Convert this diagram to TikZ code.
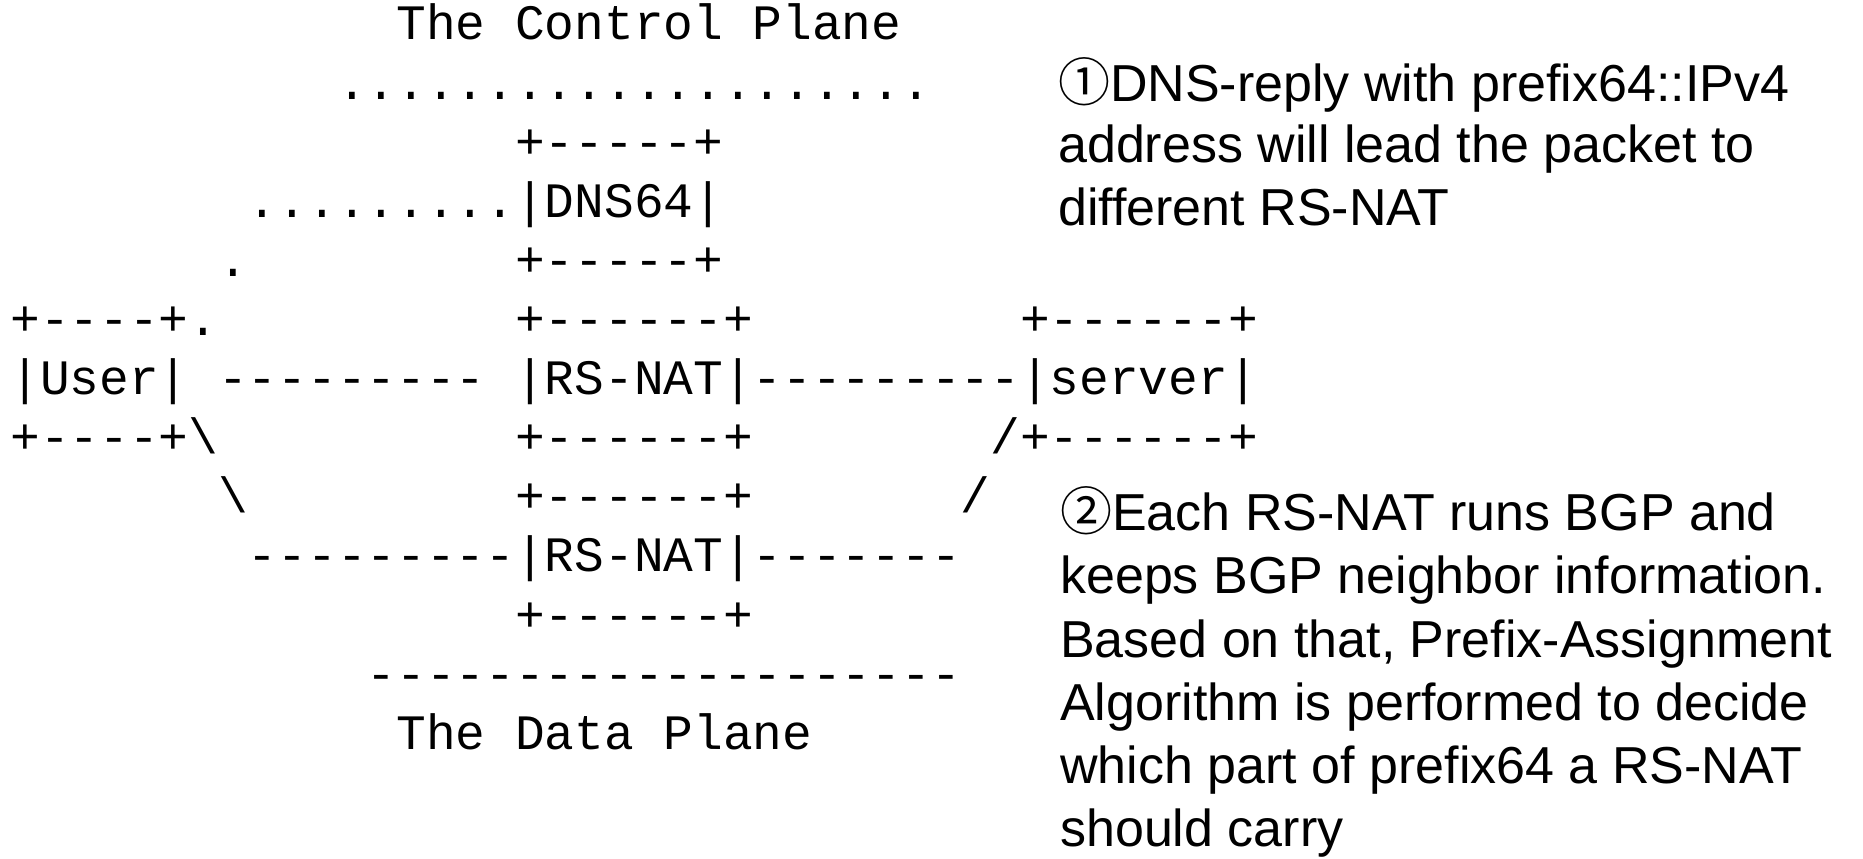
\documentclass[tikz,border=0pt]{standalone}
\usepackage{fontspec}
\setmainfont{Liberation Sans}
\setmonofont{Liberation Mono}
\newfontfamily\circfont{Noto Sans CJK SC}

\tikzset{
  asc/.style={font=\ttfamily\fontsize{49.5pt}{59pt}\selectfont, inner sep=0pt, anchor=base west},
  note/.style={font=\fontsize{52pt}{62pt}\selectfont, inner sep=0pt, anchor=base west},
}
% one run of monospaced text, placed by column and row of the character grid
\newcommand\asciirow[4]{\node[asc] (#1) at ({10.15+29.7*#2},{40+59.1*#3}) {#4};}

\begin{document}
\begin{tikzpicture}[x=1pt,y=-1pt]
  \useasboundingbox[fill=white] (0,0) rectangle (1863,859);

  % ---- character-grid network sketch ----
  \asciirow{cptitle}{13}{0}{The Control Plane}
  \asciirow{cpdots}{11}{1}{....................}
  \asciirow{dnstop}{17}{2}{+-----+}
  \asciirow{dnsmid}{8}{3}{.........|DNS64|}
  \asciirow{dotlink}{7}{4}{.}
  \asciirow{dnsbot}{17}{4}{+-----+}
  \asciirow{usertop}{0}{5}{+----+.}
  \asciirow{nattopa}{17}{5}{+------+}
  \asciirow{srvtop}{34}{5}{+------+}
  \asciirow{usermid}{0}{6}{|User|}
  \asciirow{userlink}{7}{6}{---------}
  \asciirow{natmida}{17}{6}{|RS-NAT|---------|server|}
  \asciirow{userbot}{0}{7}{+----+\textbackslash}
  \asciirow{natbota}{17}{7}{+------+}
  \asciirow{srvbot}{33}{7}{/+------+}
  \asciirow{slashl}{7}{8}{\textbackslash}
  \asciirow{nattopb}{17}{8}{+------+}
  \asciirow{slashr}{32}{8}{/}
  \asciirow{natmidb}{8}{9}{---------|RS-NAT|-------}
  \asciirow{natbotb}{17}{10}{+------+}
  \asciirow{dpline}{12}{11}{--------------------}
  \asciirow{dptitle}{13}{12}{The Data Plane}

  % ---- explanatory notes ----
  \node[note] (n1a) at (1058,101) {{\circfont ①}DNS-reply with prefix64::IPv4};
  \node[note] (n1b) at (1058,162) {address will lead the packet to};
  \node[note] (n1c) at (1058,225) {different RS-NAT};

  \node[note] (n2a) at (1060,530) {{\circfont ②}Each RS-NAT runs BGP and};
  \node[note] (n2b) at (1060,593) {keeps BGP neighbor information.};
  \node[note] (n2c) at (1060,657) {Based on that, Prefix-Assignment};
  \node[note] (n2d) at (1060,720) {Algorithm is performed to decide};
  \node[note] (n2e) at (1060,783) {which part of prefix64 a RS-NAT};
  \node[note] (n2f) at (1060,846) {should carry};
\end{tikzpicture}
\end{document}
